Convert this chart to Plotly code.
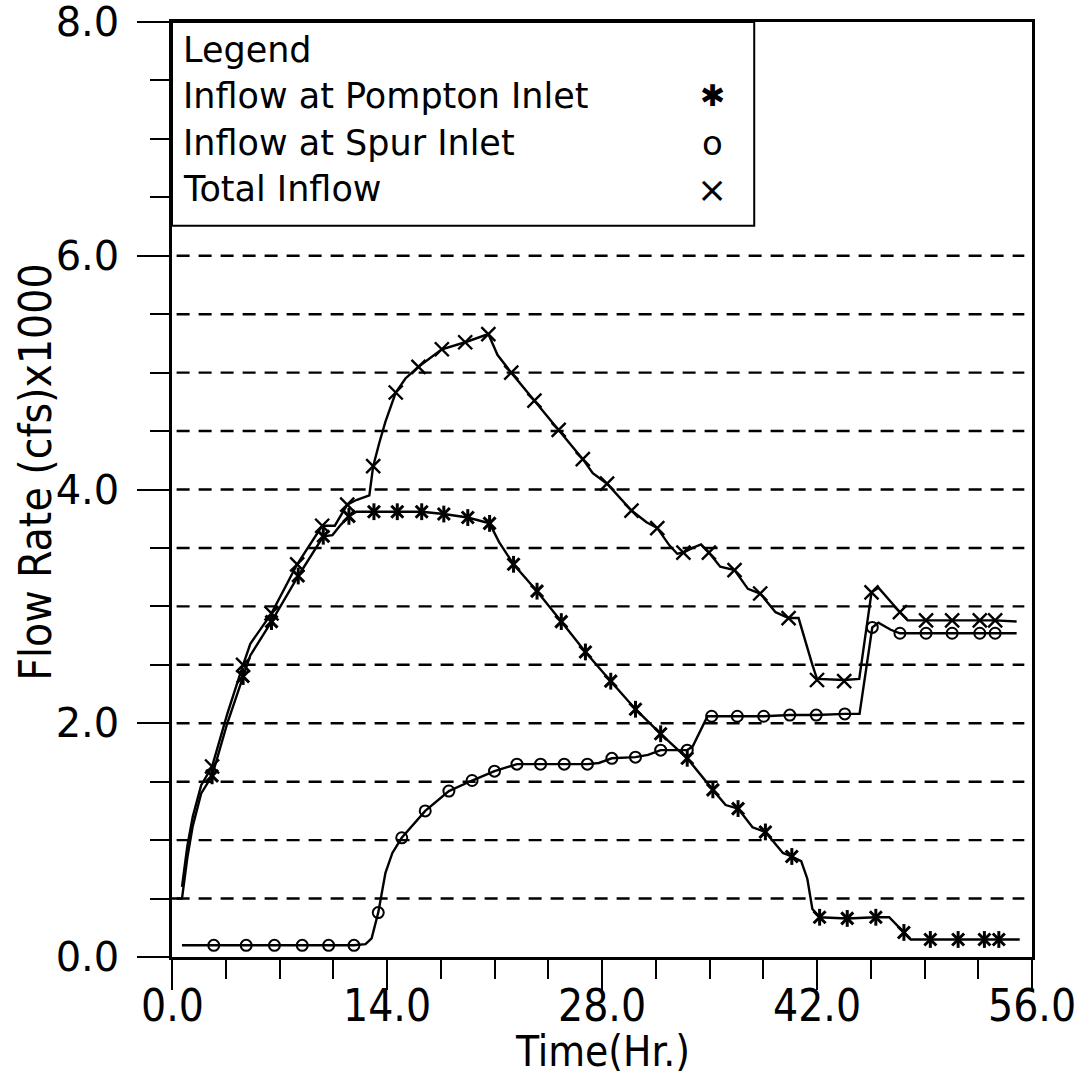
import plotly.graph_objects as go

# ---------------- data (hours, flow in cfs x 1000) ----------------
# Inflow at Pompton Inlet - line vertices
pompton_line_x = [0.0, 0.65, 1.0, 1.35, 1.9, 2.61, 3.6, 4.63, 5.1, 6.48, 8.22, 9.85, 10.45, 11.0, 11.52, 12.0,
                  13.15, 14.67, 16.26, 17.7, 19.26, 20.68, 21.3, 22.24, 23.77, 25.35, 26.92, 28.57, 30.18, 31.82,
                  33.55, 35.22, 36.05, 36.86, 37.8, 38.64, 39.78, 40.36, 40.97, 41.37, 41.7, 42.17, 43.97, 45.83,
                  46.7, 47.66, 48.1, 49.38, 51.19, 52.9, 53.84, 55.2]
pompton_line_y = [0.50, 0.50, 0.85, 1.12, 1.40, 1.55, 2.00, 2.40, 2.58, 2.87, 3.26, 3.60, 3.61, 3.70, 3.77, 3.81,
                  3.81, 3.81, 3.81, 3.79, 3.76, 3.71, 3.55, 3.36, 3.13, 2.87, 2.61, 2.36, 2.12, 1.91,
                  1.70, 1.43, 1.30, 1.27, 1.11, 1.07, 0.89, 0.86, 0.82, 0.67, 0.41, 0.34, 0.33, 0.34,
                  0.34, 0.21, 0.15, 0.15, 0.15, 0.15, 0.15, 0.15]
pompton_mark_x = [2.61, 4.63, 6.48, 8.22, 9.85, 11.52, 13.15, 14.67, 16.26, 17.7, 19.26, 20.68, 22.24, 23.77,
                  25.35, 26.92, 28.57, 30.18, 31.82, 33.55, 35.22, 36.86, 38.64, 40.36, 42.17, 43.97, 45.83,
                  47.66, 49.38, 51.19, 52.9, 53.84]
pompton_mark_y = [1.55, 2.40, 2.87, 3.26, 3.60, 3.77, 3.81, 3.81, 3.81, 3.79, 3.76, 3.71, 3.36, 3.13,
                  2.87, 2.61, 2.36, 2.12, 1.91, 1.70, 1.43, 1.27, 1.07, 0.86, 0.34, 0.33, 0.34,
                  0.21, 0.15, 0.15, 0.15, 0.15]

# Inflow at Spur Inlet
spur_line_x = [0.65, 2.72, 4.83, 6.67, 8.48, 10.2, 11.85, 12.6, 13.0, 13.43, 13.9, 14.35, 14.96, 16.49, 18.03,
               19.54, 21.0, 22.46, 24.0, 25.54, 27.05, 27.8, 28.64, 30.18, 31.0, 31.82, 33.55, 33.9, 34.87,
               35.14, 36.81, 38.53, 40.23, 41.95, 43.81, 44.77, 45.6, 46.0, 46.8, 47.4, 49.1, 50.8, 52.6,
               53.6, 55.0]
spur_line_y = [0.10, 0.10, 0.10, 0.10, 0.10, 0.10, 0.10, 0.11, 0.16, 0.38, 0.72, 0.89, 1.02, 1.25, 1.42,
               1.51, 1.59, 1.65, 1.65, 1.65, 1.65, 1.66, 1.70, 1.71, 1.73, 1.77, 1.77, 1.80, 2.06,
               2.06, 2.06, 2.06, 2.07, 2.07, 2.08, 2.08, 2.82, 2.86, 2.80, 2.77, 2.77, 2.77, 2.77,
               2.77, 2.77]
spur_mark_x = [2.72, 4.83, 6.67, 8.48, 10.2, 11.85, 13.43, 14.96, 16.49, 18.03, 19.54, 21.0, 22.46, 24.0,
               25.54, 27.05, 28.64, 30.18, 31.82, 33.55, 35.14, 36.81, 38.53, 40.23, 41.95, 43.81, 45.6,
               47.4, 49.1, 50.8, 52.6, 53.6]
spur_mark_y = [0.10, 0.10, 0.10, 0.10, 0.10, 0.10, 0.38, 1.02, 1.25, 1.42, 1.51, 1.59, 1.65, 1.65,
               1.65, 1.65, 1.70, 1.71, 1.77, 1.77, 2.06, 2.06, 2.06, 2.07, 2.07, 2.08, 2.82,
               2.77, 2.77, 2.77, 2.77, 2.77]

# Total Inflow
total_line_x = [0.65, 1.0, 1.35, 1.9, 2.61, 3.6, 4.63, 5.1, 6.48, 8.15, 9.78, 10.6, 11.41, 12.0, 12.85, 13.1,
                13.5, 13.9, 14.57, 15.2, 16.05, 17.57, 19.09, 20.6, 21.2, 22.09, 23.6, 25.18, 26.75, 27.4,
                28.33, 29.92, 30.9, 31.6, 32.4, 32.9, 33.3, 33.9, 34.45, 34.96, 35.7, 36.63, 37.5, 38.3,
                39.3, 40.15, 40.8, 41.7, 42.0, 43.77, 44.75, 45.55, 46.0, 47.4, 47.9, 49.1, 50.8, 52.6,
                53.6, 55.0]
total_line_y = [0.60, 0.95, 1.20, 1.47, 1.63, 2.08, 2.50, 2.68, 2.94, 3.36, 3.69, 3.69, 3.87, 3.91, 3.95, 4.20,
                4.40, 4.58, 4.83, 4.95, 5.05, 5.20, 5.26, 5.33, 5.15, 5.00, 4.76, 4.51, 4.26, 4.14,
                4.05, 3.82, 3.72, 3.67, 3.52, 3.45, 3.46, 3.50, 3.53, 3.46, 3.34, 3.31, 3.15, 3.11,
                2.95, 2.90, 2.90, 2.50, 2.38, 2.37, 2.38, 3.12, 3.16, 2.95, 2.88, 2.88, 2.88, 2.88,
                2.88, 2.87]
total_mark_x = [2.61, 4.63, 6.48, 8.15, 9.78, 11.41, 13.1, 14.57, 16.05, 17.57, 19.09, 20.6, 22.09, 23.6,
                25.18, 26.75, 28.33, 29.92, 31.6, 33.3, 34.96, 36.63, 38.3, 40.15, 42.0, 43.77, 45.55,
                47.4, 49.1, 50.8, 52.6, 53.6]
total_mark_y = [1.63, 2.50, 2.94, 3.36, 3.69, 3.87, 4.20, 4.83, 5.05, 5.20, 5.26, 5.33, 5.00, 4.76,
                4.51, 4.26, 4.05, 3.82, 3.67, 3.46, 3.46, 3.31, 3.11, 2.90, 2.37, 2.36, 3.12,
                2.95, 2.88, 2.88, 2.88, 2.88]

grid_values = [0.5, 1.0, 1.5, 2.0, 2.5, 3.0, 3.5, 4.0, 4.5, 5.0, 5.5, 6.0]
x_tick_vals = [0, 14, 28, 42, 56]
x_tick_text = ["0.0", "14.0", "28.0", "42.0", "56.0"]
y_tick_vals = [0, 2, 4, 6, 8]
y_tick_text = ["0.0", "2.0", "4.0", "6.0", "8.0"]

x_title = "Time(Hr.)"
y_title = "Flow Rate (cfs)x1000"
legend_title = "Legend"
series_names = ["Inflow at Pompton Inlet", "Inflow at Spur Inlet", "Total Inflow"]
series_keys = ["✱", "o", "×"]
series_key_sizes = [30, 34, 36]

# ---------------- figure ----------------
BLACK = "black"
FONT = "DejaVu Sans, sans-serif"
NARROW = "DejaVu Sans Condensed, Liberation Sans Narrow, Liberation Sans, sans-serif"

fig = go.Figure()

line_style = dict(color=BLACK, width=2.4)

fig.add_trace(go.Scatter(x=pompton_line_x, y=pompton_line_y, mode="lines", line=line_style,
                         showlegend=False, hoverinfo="skip"))
fig.add_trace(go.Scatter(x=spur_line_x, y=spur_line_y, mode="lines", line=line_style,
                         showlegend=False, hoverinfo="skip"))
fig.add_trace(go.Scatter(x=total_line_x, y=total_line_y, mode="lines", line=line_style,
                         showlegend=False, hoverinfo="skip"))

# Pompton markers: x with a vertical bar (six-armed asterisk)
fig.add_trace(go.Scatter(x=pompton_mark_x, y=pompton_mark_y, mode="markers", name=series_names[0],
                         marker=dict(symbol="x-thin-open", size=12, color=BLACK,
                                     line=dict(color=BLACK, width=3)),
                         showlegend=False))
fig.add_trace(go.Scatter(x=pompton_mark_x, y=pompton_mark_y, mode="markers", name=series_names[0],
                         marker=dict(symbol="line-ns-open", size=12, color=BLACK,
                                     line=dict(color=BLACK, width=3)),
                         showlegend=False))
fig.add_trace(go.Scatter(x=spur_mark_x, y=spur_mark_y, mode="markers", name=series_names[1],
                         marker=dict(symbol="circle-open", size=11, color=BLACK,
                                     line=dict(color=BLACK, width=2)),
                         showlegend=False))
fig.add_trace(go.Scatter(x=total_mark_x, y=total_mark_y, mode="markers", name=series_names[2],
                         marker=dict(symbol="x-thin-open", size=14, color=BLACK,
                                     line=dict(color=BLACK, width=2.4)),
                         showlegend=False))

shapes = []
for g in grid_values:
    shapes.append(dict(type="line", xref="x", yref="y", x0=0.3, x1=55.5, y0=g, y1=g,
                       line=dict(color=BLACK, width=2.4, dash="13px,9px"), layer="below"))

# legend box
shapes.append(dict(type="rect", xref="paper", yref="paper", x0=0, x1=0.677, y0=0.782, y1=1.0,
                   line=dict(color=BLACK, width=2), fillcolor="white", layer="above"))

annotations = []
legend_rows_y = [0.970, 0.921, 0.871, 0.821]
annotations.append(dict(text=legend_title, xref="paper", yref="paper", x=0.011, y=legend_rows_y[0],
                        xanchor="left", yanchor="middle", showarrow=False,
                        font=dict(family=FONT, size=35, color=BLACK)))
for i, name in enumerate(series_names):
    annotations.append(dict(text=name, xref="paper", yref="paper", x=0.011, y=legend_rows_y[i + 1],
                            xanchor="left", yanchor="middle", showarrow=False,
                            font=dict(family=FONT, size=35, color=BLACK)))
    annotations.append(dict(text=series_keys[i], xref="paper", yref="paper", x=0.628, y=legend_rows_y[i + 1],
                            xanchor="center", yanchor="middle", showarrow=False,
                            font=dict(family=FONT, size=series_key_sizes[i], color=BLACK)))

# x tick labels, placed on the x scale just under the long major ticks
for v, t in zip(x_tick_vals, x_tick_text):
    annotations.append(dict(text=t, xref="x", yref="paper", x=v, y=-0.052,
                            xanchor="center", yanchor="middle", showarrow=False,
                            font=dict(family=NARROW, size=44, color=BLACK)))

# axis titles
annotations.append(dict(text=x_title, xref="paper", yref="paper", x=0.5, y=-0.101,
                        xanchor="center", yanchor="middle", showarrow=False,
                        font=dict(family=NARROW, size=42, color=BLACK)))
annotations.append(dict(text=y_title, xref="paper", yref="paper", x=-0.158, y=0.519, textangle=-90,
                        xanchor="center", yanchor="middle", showarrow=False,
                        font=dict(family=NARROW, size=44, color=BLACK)))

fig.update_layout(
    width=1089, height=1088,
    margin=dict(l=172, r=57, t=22, b=131, autoexpand=False),
    paper_bgcolor="white", plot_bgcolor="white",
    shapes=shapes, annotations=annotations,
    showlegend=False,
    xaxis=dict(
        range=[0, 56], tickvals=x_tick_vals, showticklabels=False, automargin=False,
        ticks="outside", ticklen=30, tickwidth=2, tickcolor=BLACK,
        minor=dict(dtick=3.5, tick0=0, ticks="outside", ticklen=19, tickwidth=2, tickcolor=BLACK, showgrid=False),
        showgrid=False, zeroline=False, showline=True, linewidth=2.5, linecolor=BLACK, mirror=True,
    ),
    yaxis=dict(
        range=[0, 8], tickvals=y_tick_vals, ticktext=y_tick_text, automargin=False,
        ticklabeloverflow="allow",
        ticks="outside", ticklen=32, tickwidth=2, tickcolor=BLACK, ticklabelstandoff=10,
        minor=dict(dtick=0.5, tick0=0, ticks="outside", ticklen=19, tickwidth=2, tickcolor=BLACK, showgrid=False),
        showgrid=False, zeroline=False, showline=True, linewidth=2.5, linecolor=BLACK, mirror=True,
        tickfont=dict(family=FONT, size=40, color=BLACK),
    ),
)

fig.write_html("out.html")
